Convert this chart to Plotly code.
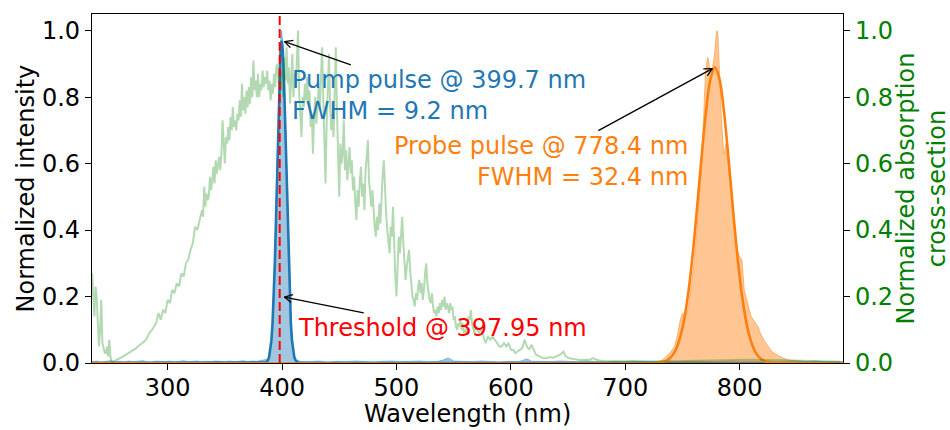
import math
import plotly.graph_objects as go

# ---------------- data ----------------
absorption_wl = [
    234, 235, 236, 237, 238, 239, 240, 241, 242, 243, 244, 245, 246, 247, 248, 249, 250, 251, 252,
    254, 256, 258, 260, 262, 264, 266, 268, 270, 272, 274, 276, 278, 280, 282, 284, 286, 288, 290,
    292, 294, 296, 298, 300, 302, 304, 306, 308, 310, 312, 314, 316, 318, 320, 322, 324, 326, 328,
    330, 331, 332, 333, 334, 335, 336, 337, 338, 339,
    340, 341, 342, 343, 344, 345, 346, 347, 348, 349,
    350, 351, 352, 353, 354, 355, 356, 357, 358, 359,
    360, 361, 362, 363, 364, 365, 366, 367, 368, 369,
    370, 371, 372, 373, 374, 375, 376, 377, 378, 379,
    380, 381, 382, 383, 384, 385, 386, 387, 388, 389,
    390, 391, 392, 393, 394, 395, 396, 397, 398, 399,
    400, 401, 402, 403, 404, 405, 406, 407, 408, 409,
    410, 411, 412, 413, 414, 415, 416, 417, 418, 419,
    420, 421, 422, 423, 424, 425, 426, 427, 428, 429,
    430, 431, 432, 433, 434, 435, 436, 437, 438, 439,
    440, 441, 442, 443, 444, 445, 446, 447, 448, 449,
    450, 451, 452, 453, 454, 455, 456, 457, 458, 459,
    460, 461, 462, 463, 464, 465, 466, 467, 468, 469,
    470, 471, 472, 473, 474, 475, 476, 477, 478, 479,
    480, 481, 482, 483, 484, 485, 486, 487, 488, 489,
    490, 491, 492, 493, 494, 495, 496, 497, 498, 499,
    500, 501, 502, 503, 504, 505, 506, 507, 508, 509,
    510, 511, 512, 513, 514, 515, 516, 517, 518, 519,
    520, 521, 522, 523, 524, 525, 526, 527, 528, 529,
    530, 531, 532, 533, 534, 535, 536, 537, 538, 539,
    540, 541, 542, 543, 544, 545, 546, 547, 548, 549,
    550, 551, 552, 553, 554, 555, 556, 557, 558, 559,
    560, 561, 562, 563, 564, 565, 566, 567, 568, 569, 570,
    572, 574, 576, 578, 580, 582, 584, 586, 588, 590, 592, 594, 596, 598, 600,
    602, 604, 606, 608, 610, 612, 614, 616, 618, 620,
    622, 625, 628, 631, 634, 637, 640, 643, 646, 648, 651, 655, 660, 665, 669, 672, 676, 681,
    690, 700, 720, 750, 780, 810, 840, 870, 888,
]
absorption = [
    0.27, 0.22, 0.14, 0.23, 0.20, 0.12, 0.05, 0.10, 0.19, 0.06, 0.04, 0.03, 0.03, 0.05, 0.02, 0.07, 0.02, 0.004, 0.003,
    0.006, 0.01, 0.014, 0.018, 0.022, 0.026, 0.03, 0.036, 0.04, 0.043, 0.05, 0.056, 0.06, 0.066, 0.075, 0.09, 0.098, 0.11, 0.12,
    0.15, 0.13, 0.16, 0.15, 0.19, 0.18, 0.22, 0.21, 0.24, 0.23, 0.27, 0.26, 0.30, 0.31, 0.34, 0.36, 0.41, 0.40, 0.43,
    0.46, 0.44, 0.53, 0.47, 0.51, 0.49, 0.50, 0.56, 0.52, 0.55,
    0.59, 0.54, 0.61, 0.57, 0.60, 0.62, 0.58, 0.63, 0.73, 0.65,
    0.60, 0.68, 0.66, 0.71, 0.67, 0.74, 0.70, 0.77, 0.71, 0.73,
    0.70, 0.75, 0.73, 0.79, 0.74, 0.84, 0.76, 0.80, 0.75, 0.82,
    0.77, 0.83, 0.78, 0.86, 0.80, 0.91, 0.82, 0.85, 0.80, 0.87,
    0.80, 0.84, 0.82, 0.88, 0.83, 0.86, 0.84, 0.88, 0.82, 0.85,
    0.79, 0.84, 0.81, 0.87, 0.83, 0.89, 0.90, 0.84, 0.86, 0.82,
    0.88, 0.80, 0.92, 0.85, 0.95, 0.84, 0.89, 0.78, 0.86, 0.93,
    0.80, 0.87, 0.83, 0.94, 1.00, 0.81, 0.72, 0.68, 0.80, 0.77,
    0.84, 0.79, 0.86, 0.78, 0.82, 0.71, 0.75, 0.63, 0.74, 0.80,
    0.72, 0.78, 0.83, 0.76, 0.88, 0.95, 0.80, 0.70, 0.54, 0.72,
    0.85, 0.93, 0.78, 0.70, 0.75, 0.68, 0.82, 0.95, 0.76, 0.62,
    0.50, 0.66, 0.60, 0.63, 0.73, 0.58, 0.64, 0.55, 0.60, 0.65,
    0.57, 0.61, 0.52, 0.56, 0.48, 0.43, 0.52, 0.47, 0.55, 0.59,
    0.50, 0.54, 0.46, 0.58, 0.62, 0.67, 0.55, 0.50, 0.47, 0.52,
    0.45, 0.41, 0.38, 0.44, 0.40, 0.48, 0.42, 0.53, 0.57, 0.61,
    0.50, 0.45, 0.40, 0.36, 0.33, 0.41, 0.38, 0.47, 0.35, 0.26,
    0.20, 0.29, 0.38, 0.33, 0.40, 0.44, 0.36, 0.30, 0.25, 0.29,
    0.31, 0.34, 0.28, 0.24, 0.20, 0.19, 0.17, 0.21, 0.19, 0.23,
    0.25, 0.21, 0.24, 0.19, 0.22, 0.27, 0.30, 0.24, 0.21, 0.19,
    0.18, 0.21, 0.17, 0.15, 0.16, 0.14, 0.17, 0.15, 0.18, 0.16,
    0.19, 0.17, 0.20, 0.16, 0.18, 0.17, 0.15, 0.18, 0.16, 0.17,
    0.13, 0.14, 0.11, 0.10, 0.12, 0.11, 0.13, 0.10, 0.12, 0.09,
    0.10, 0.09, 0.12, 0.14, 0.13, 0.16, 0.12, 0.10, 0.09, 0.10, 0.11,
    0.09, 0.10, 0.08, 0.06, 0.08, 0.07, 0.08, 0.07, 0.06, 0.05, 0.05, 0.06, 0.05, 0.06, 0.04,
    0.04, 0.03, 0.035, 0.04, 0.045, 0.07, 0.05, 0.04, 0.055, 0.04,
    0.025, 0.02, 0.015, 0.014, 0.018, 0.016, 0.02, 0.025, 0.034, 0.02, 0.014, 0.012, 0.009, 0.01, 0.01, 0.015, 0.008, 0.006,
    0.005, 0.005, 0.004, 0.006, 0.008, 0.01, 0.008, 0.005, 0.004,
]

pump_wl = [
    234, 238, 242, 246, 250, 254, 258, 262, 266, 270, 274, 278, 282, 286, 290, 294, 298, 302, 306, 310,
    314, 318, 322, 326, 330, 334, 338, 342, 346, 350, 354, 358, 362, 366, 370, 374, 378, 382, 386,
    388, 390, 391, 392, 393, 394, 395, 396, 397, 398, 399, 399.6, 400.5, 401, 402, 403, 404, 405, 406,
    407, 408, 409, 410, 411, 412,
    416, 424, 432, 440, 448, 456, 464, 472, 480, 488, 496, 504, 512, 520, 528, 536,
    540, 543, 545, 547, 550,
    558, 566, 574, 582, 590, 598, 606,
    610, 613, 615, 618,
    626, 634, 642, 650, 658, 666, 674, 682, 690, 698, 706, 714, 722, 730, 738, 746, 754, 762, 770,
    778, 786, 794, 802, 810, 818, 826, 834, 842, 850, 858, 866, 874, 882, 890,
]
pump_spectrum = [
    0.004, 0.006, 0.003, 0.005, 0.007, 0.004, 0.005, 0.003, 0.006, 0.004, 0.005, 0.007, 0.004, 0.003, 0.006, 0.005, 0.004, 0.006, 0.003, 0.005,
    0.007, 0.004, 0.005, 0.006, 0.003, 0.005, 0.004, 0.006, 0.005, 0.003, 0.006, 0.004, 0.005, 0.007, 0.004, 0.006, 0.005, 0.008, 0.01,
    0.012, 0.05, 0.08, 0.15, 0.24, 0.36, 0.50, 0.65, 0.80, 0.92, 0.98, 1.00, 0.97, 0.94, 0.84, 0.72, 0.57, 0.43, 0.30,
    0.19, 0.11, 0.06, 0.035, 0.018, 0.01,
    0.005, 0.004, 0.006, 0.003, 0.005, 0.004, 0.006, 0.005, 0.003, 0.005, 0.006, 0.004, 0.005, 0.006, 0.004, 0.005,
    0.008, 0.013, 0.015, 0.012, 0.006,
    0.005, 0.004, 0.006, 0.005, 0.003, 0.005, 0.004,
    0.007, 0.012, 0.011, 0.005,
    0.005, 0.004, 0.006, 0.005, 0.004, 0.006, 0.005, 0.003, 0.005, 0.004, 0.006, 0.005, 0.004, 0.005, 0.006, 0.004, 0.005, 0.006, 0.005,
    0.004, 0.005, 0.006, 0.004, 0.005, 0.006, 0.005, 0.004, 0.006, 0.007, 0.005, 0.006, 0.004, 0.005, 0.004,
]

pump_fit_wl = [234, 384, 385.7, 386.7, 387.7, 388.7, 389.7, 390.7, 391.7, 392.7, 393.7, 394.7, 395.7, 396.7,
               397.7, 398.7, 399.7, 400.7, 401.7, 402.7, 403.7, 404.7, 405.7, 406.7, 407.7, 408.7,
               409.7, 410.7, 411.7, 412.7, 413.7, 415.4, 890]
pump_fit = [0, 0, 0.0016, 0.004, 0.0086, 0.018, 0.037, 0.068, 0.119, 0.195, 0.298, 0.428, 0.574, 0.722,
            0.851, 0.939, 0.97, 0.939, 0.851, 0.722, 0.574, 0.428, 0.298, 0.195, 0.119, 0.068,
            0.037, 0.018, 0.0086, 0.004, 0.0016, 0, 0]

probe_wl = [234, 700, 716, 724, 728, 732, 736, 740, 743, 746, 748, 750, 752, 754, 756, 758, 760, 762, 764,
            766, 768, 769, 770, 771, 772, 773, 774, 775, 776, 777, 778, 779, 780, 781, 782, 783, 784, 785,
            786, 787, 788, 789, 790, 792, 794, 796, 798, 800, 802, 804, 806, 808, 810, 812, 814, 816, 818,
            820, 822, 824, 826, 828, 830, 834, 838, 842, 846, 850, 860, 870, 890]
probe_spectrum = [0, 0.001, 0.002, 0.003, 0.004, 0.008, 0.02, 0.035, 0.05, 0.09, 0.13, 0.15, 0.14, 0.15, 0.19,
                  0.24, 0.30, 0.38, 0.47, 0.56, 0.70, 0.80, 0.87, 0.90, 0.92, 0.91, 0.87, 0.86, 0.88, 0.91,
                  0.93, 0.97, 1.00, 0.99, 0.93, 0.83, 0.74, 0.66, 0.63, 0.64, 0.66, 0.63, 0.60, 0.53, 0.47,
                  0.40, 0.34, 0.32, 0.31, 0.22, 0.19, 0.16, 0.14, 0.13, 0.12, 0.11, 0.09, 0.075, 0.065,
                  0.055, 0.045, 0.035, 0.03, 0.022, 0.015, 0.01, 0.007, 0.005, 0.003, 0.002, 0.002]

probe_fit_wl = [234, 726.4, 730.4, 734.4, 738.4, 742.4, 746.4, 750.4, 754.4, 758.4, 762.4, 766.4, 770.4, 774.4,
                778.4, 782.4, 786.4, 790.4, 794.4, 798.4, 802.4, 806.4, 810.4, 814.4, 818.4, 822.4,
                826.4, 830.4, 890]
probe_fit = [0, 0, 0.002, 0.005, 0.013, 0.029, 0.060, 0.112, 0.194, 0.309, 0.453, 0.609, 0.752, 0.853,
             0.89, 0.853, 0.752, 0.609, 0.453, 0.309, 0.194, 0.112, 0.060, 0.029, 0.013, 0.005,
             0.002, 0, 0]

pump_center, pump_peak, pump_fwhm = 399.7, 0.97, 9.2
probe_center, probe_peak, probe_fwhm = 778.4, 0.89, 32.4
threshold = 397.95
threshold_arrow_point = (399.5, 0.2)

x_ticks = [300, 400, 500, 600, 700, 800]
y_ticks = [0.0, 0.2, 0.4, 0.6, 0.8, 1.0]
y_tick_labels = ["0.0", "0.2", "0.4", "0.6", "0.8", "1.0"]

# ---------------- layout constants ----------------
W, H = 950, 430
ML, MR, MT, MB = 92, 107, 14, 67
XR = [233.9, 890.3]
YR = [0, 1.05]
FONT = "DejaVu Sans"
FS = 24
BLUE, ORANGE, GREEN = "#1f77b4", "#ff7f0e", "#008000"

PW = W - ML - MR
PH = H - MT - MB

fig = go.Figure()

fig.add_trace(go.Scatter(x=pump_wl, y=pump_spectrum, mode="lines", fill="tozeroy",
                         fillcolor="rgba(31,119,180,0.42)",
                         line=dict(color="rgba(31,119,180,0.42)", width=1), showlegend=False))
fig.add_trace(go.Scatter(x=pump_fit_wl, y=pump_fit, mode="lines",
                         line=dict(color=BLUE, width=2.6), showlegend=False))
fig.add_trace(go.Scatter(x=probe_wl, y=probe_spectrum, mode="lines", fill="tozeroy",
                         fillcolor="rgba(255,127,14,0.45)",
                         line=dict(color="rgba(255,127,14,0.45)", width=1), showlegend=False))
fig.add_trace(go.Scatter(x=probe_fit_wl, y=probe_fit, mode="lines", line_shape="spline",
                         line=dict(color=ORANGE, width=2.6), showlegend=False))
fig.add_trace(go.Scatter(x=absorption_wl, y=absorption, mode="lines", yaxis="y2",
                         line=dict(color="rgba(0,128,0,0.3)", width=2), showlegend=False))

fig.add_shape(type="line", xref="x", yref="paper", x0=threshold, x1=threshold, y0=0, y1=1,
              line=dict(color="red", width=2, dash="9px,4px"))


def to_px(x, y):
    return (ML + (x - XR[0]) / (XR[1] - XR[0]) * PW,
            MT + (1 - (y - YR[0]) / (YR[1] - YR[0])) * PH)


def add_arrow(text, color, head, tail, align):
    fig.add_annotation(x=head[0], y=head[1], ax=tail[0], ay=tail[1], xref="x", yref="y",
                       axref="x", ayref="y", text=text, showarrow=True, arrowhead=0,
                       arrowwidth=1.3, arrowcolor="black", standoff=3, align=align,
                       font=dict(family=FONT, size=FS, color=color))
    hx, hy = to_px(*head)
    tx, ty = to_px(*tail)
    d = math.hypot(tx - hx, ty - hy)
    ux, uy = (tx - hx) / d, (ty - hy) / d
    for sgn in (1, -1):
        a = math.radians(27) * sgn
        wx = (ux * math.cos(a) - uy * math.sin(a)) * 10.5
        wy = (ux * math.sin(a) + uy * math.cos(a)) * 10.5
        fig.add_annotation(x=head[0], y=head[1], xref="x", yref="y", ax=wx, ay=wy,
                           text="", showarrow=True, arrowhead=0, arrowwidth=1.3,
                           arrowcolor="black", xshift=3 * ux, yshift=-3 * uy)


add_arrow(f"Pump pulse @ {pump_center} nm<br>FWHM = {pump_fwhm} nm", BLUE,
          (pump_center, pump_peak), (537.6, 0.804), "left")
add_arrow(f"Probe pulse @ {probe_center} nm<br>FWHM = {probe_fwhm} nm", ORANGE,
          (probe_center, probe_peak), (626.6, 0.606), "right")
add_arrow(f"Threshold @ {threshold} nm", "red", threshold_arrow_point, (540.0, 0.1045), "left")

# axis titles as annotations (pixel-placed)
fig.add_annotation(text="Wavelength (nm)", xref="paper", yref="paper", x=0.5,
                   y=(H - MB - 414) / PH, xanchor="center", yanchor="middle", showarrow=False,
                   font=dict(family=FONT, size=FS, color="black"))
fig.add_annotation(text="Normalized intensity", xref="paper", yref="paper", x=(25 - ML) / PW,
                   y=0.5, xanchor="center", yanchor="middle", textangle=-90, showarrow=False,
                   font=dict(family=FONT, size=FS, color="black"))
fig.add_annotation(text="Normalized absorption<br>cross-section", xref="paper", yref="paper",
                   x=(921 - ML) / PW, y=0.5, xanchor="center", yanchor="middle", textangle=-90,
                   showarrow=False, font=dict(family=FONT, size=FS, color=GREEN))

axis_common = dict(showgrid=False, zeroline=False, showline=True, linecolor="black", linewidth=1.3,
                   ticks="outside", ticklen=6, tickwidth=1.3, tickcolor="black", automargin=False,
                   tickfont=dict(family=FONT, size=FS, color="black"))

fig.update_layout(
    width=W, height=H, margin=dict(l=ML, r=MR, t=MT, b=MB, autoexpand=False),
    paper_bgcolor="white", plot_bgcolor="white",
    font=dict(family=FONT, size=FS, color="black"),
    xaxis=dict(range=XR, tickvals=x_ticks, mirror=True, ticklabelstandoff=-3, **axis_common),
    yaxis=dict(range=YR, tickvals=y_ticks, ticktext=y_tick_labels, mirror=True, **axis_common),
    yaxis2=dict(range=YR, tickvals=y_ticks, ticktext=y_tick_labels, overlaying="y", side="right",
                **{**axis_common, "tickfont": dict(family=FONT, size=FS, color=GREEN)}),
)

fig.write_html("out.html", config={"displayModeBar": False},
               post_script="document.body.style.margin='0px';")
